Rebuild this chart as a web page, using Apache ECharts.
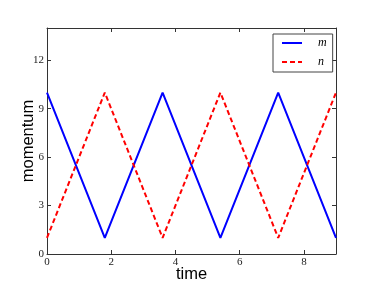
<!DOCTYPE html>
<html><head><meta charset="utf-8">
<script src="https://cdn.jsdelivr.net/npm/echarts@6/dist/echarts.min.js"></script>
<style>html,body{margin:0;padding:0;background:#fff}#c{width:374px;height:283px}</style>
</head><body><div id="c"></div>
<script>
const timeM = [0, 1.8, 3.6, 5.4, 7.2, 9];
const valuesM = [10, 1, 10, 1, 10, 1];
const timeN = [0, 1.8, 3.6, 5.4, 7.2, 9];
const valuesN = [1, 10, 1, 10, 1, 10];
const xTicks = [0, 2, 4, 6, 8];
const yTicks = [0, 3, 6, 9, 12];

const chart = echarts.init(document.getElementById('c'), null, {renderer: 'canvas'});
const tickFont = {fontFamily: 'Liberation Serif', fontSize: 11, color: '#222'};
const axisLine = {show: true, onZero: false, lineStyle: {color: '#333', width: 1}};
const xTick = {show: true, inside: true, length: 4, customValues: xTicks, lineStyle: {color: '#333', width: 1}};
const yTick = {show: true, inside: true, length: 4, customValues: yTicks, lineStyle: {color: '#333', width: 1}};
chart.setOption({
  animation: false,
  grid: {left: 47, right: 38, top: 28, bottom: 29, containLabel: false, outerBoundsMode: 'none'},
  legend: {
    orient: 'vertical', left: 273, top: 34, width: 58,
    padding: [2, 6, 3, 8], itemGap: 5, itemWidth: 20, itemHeight: 9,
    borderColor: '#444', borderWidth: 1, backgroundColor: '#fff',
    itemStyle: {opacity: 0},
    textStyle: {fontFamily: 'Liberation Serif', fontStyle: 'italic', fontSize: 12, lineHeight: 14, color: '#000', padding: [0, 0, 0, 11]},
    data: ['m', 'n']
  },
  xAxis: [
    {type: 'value', min: 0, max: 9, position: 'bottom',
     axisLine: axisLine, axisTick: xTick, splitLine: {show: false},
     axisLabel: Object.assign({margin: 3, customValues: xTicks}, tickFont),
     name: 'time', nameLocation: 'middle', nameGap: 12, nameMoveOverlap: false,
     nameTextStyle: {fontFamily: 'Liberation Sans', fontSize: 16.5, color: '#000'}},
    {type: 'value', min: 0, max: 9, position: 'top',
     axisLine: axisLine, axisTick: xTick, splitLine: {show: false}, axisLabel: {show: false}}
  ],
  yAxis: [
    {type: 'value', min: 0, max: 14, position: 'left',
     axisLine: axisLine, axisTick: yTick, splitLine: {show: false},
     axisLabel: Object.assign({margin: 3, customValues: yTicks}, tickFont),
     name: 'momentum', nameLocation: 'middle', nameGap: 10, nameRotate: 90, nameMoveOverlap: false,
     nameTextStyle: {fontFamily: 'Liberation Sans', fontSize: 16.5, color: '#000'}},
    {type: 'value', min: 0, max: 14, position: 'right',
     axisLine: axisLine, axisTick: yTick, splitLine: {show: false}, axisLabel: {show: false}}
  ],
  series: [
    {name: 'm', type: 'line', symbol: 'none', data: timeM.map((t, i) => [t, valuesM[i]]),
     lineStyle: {color: '#0000ff', width: 2}, itemStyle: {color: '#0000ff'}},
    {name: 'n', type: 'line', symbol: 'none', data: timeN.map((t, i) => [t, valuesN[i]]),
     lineStyle: {color: '#ff0000', width: 2, type: [5, 3]}, itemStyle: {color: '#ff0000'}}
  ]
});
</script></body></html>
